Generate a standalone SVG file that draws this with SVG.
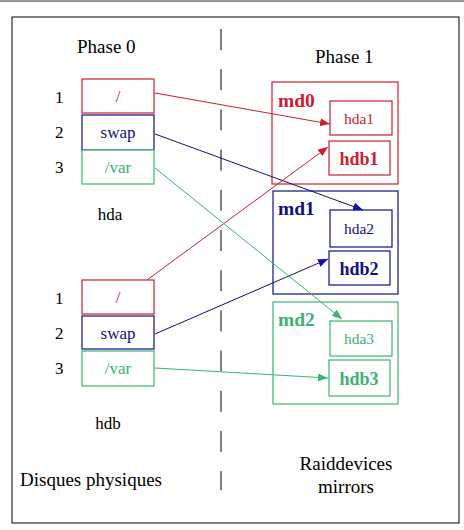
<svg xmlns="http://www.w3.org/2000/svg" width="464" height="530" viewBox="0 0 464 530">
<defs>
<style>
text{font-family:"Liberation Serif","Times New Roman",serif;}
.t{font-size:19px;fill:#000;}
.n{font-size:17px;fill:#000;}
.box{fill:#fff;stroke-width:1.2;}
.r{stroke:#cc2030;} .b{stroke:#101080;} .g{stroke:#3cb371;}
.rt{fill:#cc2030;} .bt{fill:#101080;} .gt{fill:#3cb371;}
.p{font-size:17px;text-anchor:middle;}
.s{font-size:15.5px;text-anchor:middle;}
.big{font-size:19.5px;font-weight:bold;}
.bigc{font-size:18px;font-weight:bold;text-anchor:middle;}
.c{fill:none;stroke-width:1;}
</style>
<marker id="ar" markerWidth="10" markerHeight="8" refX="10" refY="4" orient="auto" markerUnits="userSpaceOnUse"><path d="M0,0 L10,4 L0,8 Z" fill="#cc2030"/></marker>
<marker id="ab" markerWidth="10" markerHeight="8" refX="10" refY="4" orient="auto" markerUnits="userSpaceOnUse"><path d="M0,0 L10,4 L0,8 Z" fill="#1010b0"/></marker>
<marker id="ag" markerWidth="10" markerHeight="8" refX="10" refY="4" orient="auto" markerUnits="userSpaceOnUse"><path d="M0,0 L10,4 L0,8 Z" fill="#3cb371"/></marker>
</defs>
<rect x="0" y="0" width="464" height="530" fill="#fff"/>
<line x1="0" y1="1" x2="464" y2="1" stroke="#999" stroke-width="2"/>
<rect x="12" y="17" width="447" height="506" fill="none" stroke="#000" stroke-width="1"/>
<line x1="221" y1="29" x2="221" y2="490" stroke="#000" stroke-width="1" stroke-dasharray="21,19.2"/>

<text class="t" x="77" y="53">Phase 0</text>
<text class="t" x="315" y="63">Phase 1</text>
<text class="t" x="20" y="486">Disques physiques</text>
<text class="t" x="346" y="470" text-anchor="middle">Raiddevices</text>
<text class="t" x="346" y="493" text-anchor="middle">mirrors</text>
<text class="n" x="110" y="220" text-anchor="middle">hda</text>
<text class="n" x="108" y="429" text-anchor="middle">hdb</text>

<g id="hda">
<text class="n" x="55" y="103">1</text>
<text class="n" x="55" y="138">2</text>
<text class="n" x="55" y="173">3</text>
<g id="hda1p"><rect class="box r" x="82" y="79" width="72" height="34"/><text class="p rt" x="118" y="102">/</text></g>
<g id="hda2p"><rect class="box b" x="82" y="115" width="72" height="35"/><text class="p bt" x="118" y="138">swap</text></g>
<g id="hda3p"><rect class="box g" x="82" y="150" width="72" height="34"/><text class="p gt" x="118" y="173">/var</text></g>
</g>

<g id="hdb">
<text class="n" x="55" y="304">1</text>
<text class="n" x="55" y="339">2</text>
<text class="n" x="55" y="374">3</text>
<g id="hdb1p"><rect class="box r" x="82" y="280" width="72" height="34"/><text class="p rt" x="118" y="303">/</text></g>
<g id="hdb2p"><rect class="box b" x="82" y="316" width="72" height="33"/><text class="p bt" x="118" y="339">swap</text></g>
<g id="hdb3p"><rect class="box g" x="82" y="351" width="72" height="35"/><text class="p gt" x="118" y="374">/var</text></g>
</g>

<g id="md0">
<rect class="box r" x="272" y="82" width="126" height="102"/>
<text class="big rt" x="278" y="107">md0</text>
<g id="hda1"><rect class="box r" x="330" y="101" width="62" height="34"/><text class="s rt" x="359" y="124">hda1</text></g>
<g id="hdb1"><rect class="box r" x="329" y="141" width="61" height="34"/><text class="bigc rt" x="359" y="165">hdb1</text></g>
</g>

<g id="md1">
<rect class="box b" x="273" y="191" width="125" height="103"/>
<text class="big bt" x="278" y="215">md1</text>
<g id="hda2"><rect class="box b" x="330" y="210" width="62" height="37"/><text class="s bt" x="359" y="234">hda2</text></g>
<g id="hdb2"><rect class="box b" x="329" y="251" width="61" height="34"/><text class="bigc bt" x="359" y="275">hdb2</text></g>
</g>

<g id="md2">
<rect class="box g" x="273" y="302" width="125" height="102"/>
<text class="big gt" x="278" y="326">md2</text>
<g id="hda3"><rect class="box g" x="330" y="321" width="62" height="35"/><text class="s gt" x="359" y="344">hda3</text></g>
<g id="hdb3"><rect class="box g" x="329" y="360" width="61" height="36"/><text class="bigc gt" x="359" y="385">hdb3</text></g>
</g>

<g id="connectors">
<line class="c" x1="155" y1="93" x2="330" y2="124" stroke="#cc2030" marker-end="url(#ar)"/>
<line class="c" x1="147" y1="280" x2="328" y2="147" stroke="#cc2030" marker-end="url(#ar)"/>
<line class="c" x1="155" y1="134" x2="363" y2="210" stroke="#101080" marker-end="url(#ab)"/>
<line class="c" x1="155" y1="334" x2="328" y2="259" stroke="#101080" marker-end="url(#ab)"/>
<line class="c" x1="155" y1="168" x2="342" y2="319" stroke="#3cb371" marker-end="url(#ag)"/>
<line class="c" x1="155" y1="368" x2="328" y2="378" stroke="#3cb371" marker-end="url(#ag)"/>
</g>
</svg>
